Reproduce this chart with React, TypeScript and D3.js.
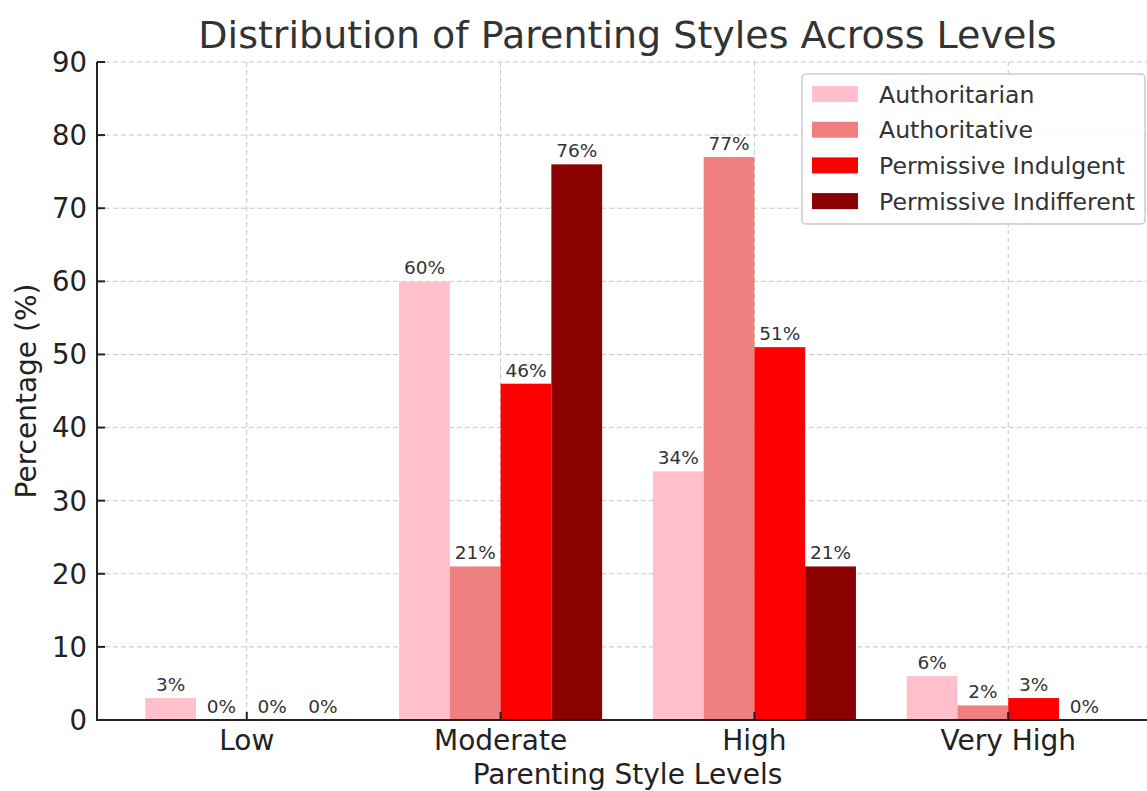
import React from "react";
import * as d3 from "d3";

const categories = ["Low", "Moderate", "High", "Very High"];
const seriesNames = ["Authoritarian", "Authoritative", "Permissive Indulgent", "Permissive Indifferent"];
const seriesColors = ["#FFC0CB", "#F08080", "#FF0000", "#8B0000"];
const authoritarian = [3, 60, 34, 6];
const authoritative = [0, 21, 77, 2];
const permissiveIndulgent = [0, 46, 51, 3];
const permissiveIndifferent = [0, 76, 21, 0];
const yTicks = [0, 10, 20, 30, 40, 50, 60, 70, 80, 90];

const seriesValues = [authoritarian, authoritative, permissiveIndulgent, permissiveIndifferent];

const W = 1147;
const H = 791;
const M = { left: 97, right: 1158, top: 62, bottom: 720 };
const FONT = "DejaVu Sans, Verdana, sans-serif";

export default function App() {
  const barW = 0.2;
  const x = d3.scaleLinear().domain([-0.59, 3.59]).range([M.left, M.right]);
  const y = d3.scaleLinear().domain([0, 90]).range([M.bottom, M.top]);
  const unit = x(1) - x(0);

  const bars: JSX.Element[] = [];
  const labels: JSX.Element[] = [];
  seriesValues.forEach((vals, si) => {
    const offset = (si - 1.5) * barW;
    vals.forEach((v, ci) => {
      const cx = x(ci + offset);
      const x0 = cx - (barW * unit) / 2;
      bars.push(
        <rect key={`b${si}-${ci}`} x={x0} y={y(v)} width={barW * unit} height={y(0) - y(v)} fill={seriesColors[si]} />
      );
      labels.push(
        <text key={`l${si}-${ci}`} x={cx} y={y(v) - 7} textAnchor="middle" fontSize={18.5} fill="#333">
          {`${v}%`}
        </text>
      );
    });
  });

  return (
    <svg width={W} height={H} style={{ position: "absolute", left: 0, top: 0, background: "#fff" }} fontFamily={FONT}>
      {/* grid */}
      {yTicks.map((t) => (
        <line key={`gy${t}`} x1={M.left} x2={M.right} y1={y(t)} y2={y(t)} stroke="#c8c8c8" strokeWidth={1} strokeDasharray="5,3" />
      ))}
      {categories.map((c, i) => (
        <line key={`gx${c}`} x1={x(i)} x2={x(i)} y1={M.top} y2={M.bottom} stroke="#c8c8c8" strokeWidth={1} strokeDasharray="5,3" />
      ))}
      {bars}
      {labels}
      {/* axes */}
      <line x1={M.left} x2={M.left} y1={M.top} y2={M.bottom + 1} stroke="#222" strokeWidth={2} />
      <line x1={M.left - 1} x2={M.right} y1={M.bottom} y2={M.bottom} stroke="#222" strokeWidth={2} />
      {yTicks.map((t) => (
        <g key={`ty${t}`}>
          <line x1={M.left} x2={M.left + 8} y1={y(t)} y2={y(t)} stroke="#222" strokeWidth={2} />
          <text x={M.left - 10} y={y(t)} dy="0.36em" textAnchor="end" fontSize={27.5} fill="#222">
            {t}
          </text>
        </g>
      ))}
      {categories.map((c, i) => (
        <g key={`tx${c}`}>
          <line x1={x(i)} x2={x(i)} y1={M.bottom} y2={M.bottom - 8} stroke="#222" strokeWidth={2} />
          <text x={x(i)} y={M.bottom + 30} textAnchor="middle" fontSize={28} fill="#222">
            {c}
          </text>
        </g>
      ))}
      <text x={(M.left + M.right) / 2} y={784} textAnchor="middle" fontSize={28} fill="#222">
        Parenting Style Levels
      </text>
      <text transform={`translate(36,${(M.top + M.bottom) / 2}) rotate(-90)`} textAnchor="middle" fontSize={28} fill="#222">
        Percentage (%)
      </text>
      <text x={(M.left + M.right) / 2} y={48} textAnchor="middle" fontSize={38} fill="#333">
        Distribution of Parenting Styles Across Levels
      </text>
      {/* legend */}
      <rect x={802} y={74} width={343} height={150} rx={4} fill="#fff" fillOpacity={0.85} stroke="#ccc" strokeWidth={1.5} />
      {seriesNames.map((n, i) => (
        <g key={`lg${n}`} transform={`translate(0,${94 + i * 35.7})`}>
          <rect x={812} y={-8} width={46} height={16} fill={seriesColors[i]} />
          <text x={879} y={0} dy="0.36em" fontSize={23.6} fill="#333">
            {n}
          </text>
        </g>
      ))}
    </svg>
  );
}
